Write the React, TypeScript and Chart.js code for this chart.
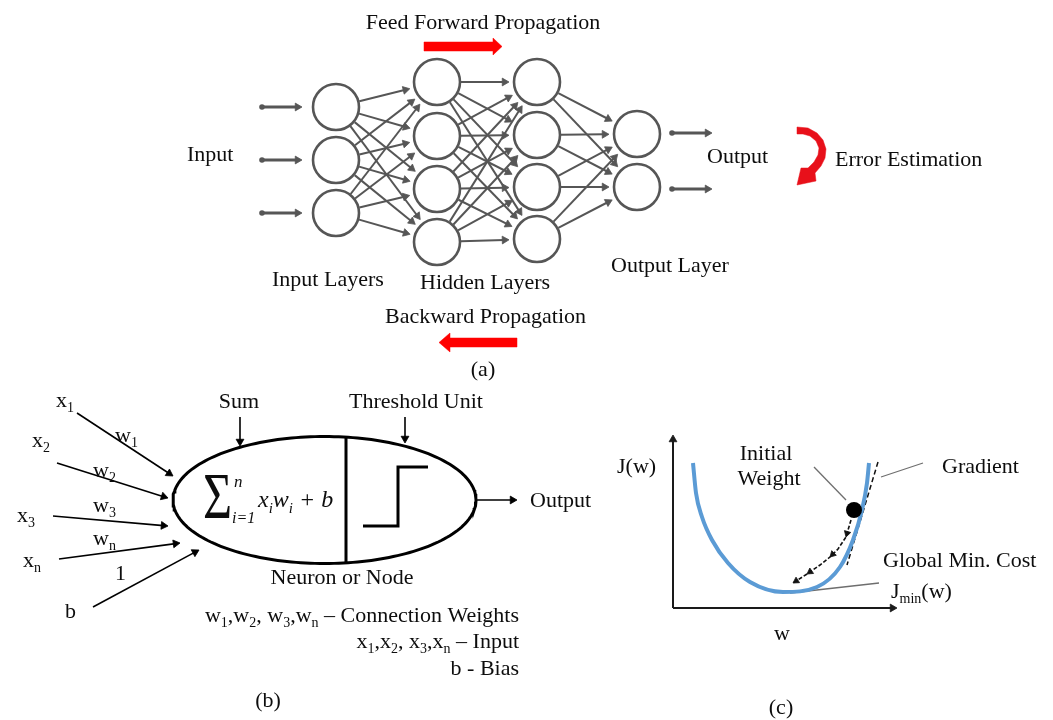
import React, { useEffect, useRef } from "react";
import { Chart, registerables } from "chart.js";

Chart.register(...registerables);

const CANVAS_W = 1053;
const CANVAS_H = 720;
const SERIF = '"Liberation Serif", "Times New Roman", serif';

// ---------- (a) feed-forward network ----------
const layerX = [336, 437, 537, 637];
const inputLayerY = [107, 160, 213];
const hidden1Y = [82, 136, 189, 242];
const hidden2Y = [82, 135, 187, 239];
const outputLayerY = [134, 187];
const nodeRadius = 23;
const inputArrowX = [262, 302];
const inputArrowY = [107, 160, 213];
const outputArrowX = [672, 712];
const outputArrowY = [133, 189];
const feedArrowX = [424, 493, 493, 502, 493, 493, 424, 424];
const feedArrowY = [42, 42, 38, 46.5, 55, 51, 51, 42];
const backArrowX = [517, 450, 450, 439, 450, 450, 517, 517];
const backArrowY = [338, 338, 333, 342.5, 352, 347, 347, 338];
const errorArrowX = [797, 808, 817, 823, 826, 825, 821, 815, 816, 797, 801, 808, 814, 818, 819, 816, 810, 803, 797, 797];
const errorArrowY = [127, 128, 133, 140, 149, 158, 166, 173, 181, 185, 168, 168, 162, 155, 148, 141, 136, 134, 134, 127];

// ---------- (b) single neuron ----------
const neuronCenterX = 324.5;
const neuronCenterY = 500;
const neuronRadiusX = 151.5;
const neuronRadiusY = 63.5;
const dividerX = 346;
const inputFromX = [77, 57, 53, 59, 93];
const inputFromY = [413, 463, 516, 559, 607];
const inputToX = [173, 168, 168, 180, 199];
const inputToY = [476, 498, 526, 543, 550];
const pointerFromX = [240, 405];
const pointerFromY = [417, 417];
const pointerToY = [446, 443];
const neuronOutX = [476, 517];
const neuronOutY = 500;
const stepX = [363, 398, 398, 428];
const stepY = [526, 526, 467, 467];

// ---------- (c) gradient descent ----------
const axisOriginX = 673;
const axisOriginY = 608;
const axisTopY = 435;
const axisRightX = 897;
const costCurveW = [693, 696, 702, 712, 728, 750, 783, 817, 840, 853, 862, 867, 869];
const costCurveJ = [463, 493, 517, 540, 563, 582, 592, 587, 567, 540, 510, 483, 463];
const tangentX = [878, 847];
const tangentY = [462, 565];
const ballX = 854;
const ballY = 510;
const descentX = [851, 846, 838, 830, 820, 807, 793];
const descentY = [520, 537, 549, 557, 565, 574, 583];
const descentHeadIdx = [1, 3, 5, 6];
const leaderFromX = [814, 881, 790];
const leaderFromY = [467, 477, 593];
const leaderToX = [846, 923, 879];
const leaderToY = [500, 463, 583];

// ---------- text ----------
type Label = { t: string; x: number; y: number; a?: CanvasTextAlign; size?: number; italic?: boolean; sy?: number };
const labels: Label[] = [
  { t: "Feed Forward Propagation", x: 483, y: 29, a: "center" },
  { t: "Input", x: 187, y: 161 },
  { t: "Output", x: 707, y: 163 },
  { t: "Error Estimation", x: 835, y: 166 },
  { t: "Input Layers", x: 272, y: 286 },
  { t: "Hidden Layers", x: 420, y: 289 },
  { t: "Output Layer", x: 611, y: 272 },
  { t: "Backward Propagation", x: 385, y: 323 },
  { t: "(a)", x: 483, y: 376, a: "center" },
  { t: "Sum", x: 239, y: 408, a: "center" },
  { t: "Threshold Unit", x: 416, y: 408, a: "center" },
  { t: "Output", x: 530, y: 507 },
  { t: "Neuron or Node", x: 342, y: 584, a: "center" },
  { t: "w_{1},w_{2}, w_{3},w_{n} – Connection Weights", x: 519, y: 622, a: "right" },
  { t: "x_{1},x_{2}, x_{3},x_{n} – Input", x: 519, y: 648, a: "right" },
  { t: "b - Bias", x: 519, y: 675, a: "right" },
  { t: "x_{1}", x: 56, y: 407 },
  { t: "w_{1}", x: 115, y: 442 },
  { t: "x_{2}", x: 32, y: 447 },
  { t: "w_{2}", x: 93, y: 477 },
  { t: "x_{3}", x: 17, y: 522 },
  { t: "w_{3}", x: 93, y: 512 },
  { t: "w_{n}", x: 93, y: 545 },
  { t: "x_{n}", x: 23, y: 567 },
  { t: "1", x: 115, y: 580 },
  { t: "b", x: 65, y: 618 },
  { t: "(b)", x: 268, y: 707, a: "center" },
  { t: "Σ", x: 203, y: 518, size: 50, sy: 1.3 },
  { t: "n", x: 234, y: 487, size: 17, italic: true },
  { t: "i=1", x: 232, y: 523, size: 16, italic: true },
  { t: "x_{i}w_{i} + b", x: 258, y: 507, size: 24, italic: true },
  { t: "J(w)", x: 617, y: 473 },
  { t: "Initial", x: 766, y: 460, a: "center" },
  { t: "Weight", x: 769, y: 485, a: "center" },
  { t: "Gradient", x: 942, y: 473 },
  { t: "Global Min. Cost", x: 883, y: 567 },
  { t: "J_{min}(w)", x: 891, y: 598 },
  { t: "w", x: 782, y: 640, a: "center" },
  { t: "(c)", x: 781, y: 714, a: "center" },
];

type P = { x: number; y: number };

function parseRich(s: string) {
  const segs: { t: string; sub: boolean; sup: boolean }[] = [];
  const re = /_\{([^}]*)\}|\^\{([^}]*)\}|([^_^]+)/g;
  let m: RegExpExecArray | null;
  while ((m = re.exec(s))) {
    if (m[1] !== undefined) segs.push({ t: m[1], sub: true, sup: false });
    else if (m[2] !== undefined) segs.push({ t: m[2], sub: false, sup: true });
    else segs.push({ t: m[3], sub: false, sup: false });
  }
  return segs;
}

function buildDatasets() {
  const ds: any[] = [];
  const heads: { x: number; y: number; rot: number; r: number; color: string }[] = [];

  const addLine = (pts: P[], color: string, width: number, extra: any = {}) => {
    ds.push({
      data: pts,
      borderColor: color,
      borderWidth: width,
      pointRadius: 0,
      showLine: true,
      fill: false,
      tension: 0,
      clip: false,
      order: 5,
      ...extra,
    });
  };
  const addArrow = (a: P, b: P, color: string, width: number, hr: number, extra: any = {}) => {
    const dx = b.x - a.x;
    const dy = b.y - a.y;
    const L = Math.hypot(dx, dy);
    const ux = dx / L;
    const uy = dy / L;
    const hc = { x: b.x - ux * hr, y: b.y - uy * hr };
    addLine([a, hc], color, width, extra);
    heads.push({ x: hc.x, y: hc.y, rot: (Math.atan2(ux, -uy) * 180) / Math.PI, r: hr, color });
  };
  const addPolygon = (xs: number[], ys: number[], color: string) => {
    ds.push({
      data: xs.map((x, i) => ({ x, y: ys[i] })),
      borderColor: color,
      borderWidth: 0.5,
      backgroundColor: color,
      pointRadius: 0,
      showLine: true,
      fill: "shape",
      tension: 0,
      clip: false,
      order: 4,
    });
  };

  const netColor = "#565656";

  // (a) connections
  const layers = [inputLayerY, hidden1Y, hidden2Y, outputLayerY];
  for (let l = 0; l < 3; l++) {
    for (const sy of layers[l]) {
      for (const ty of layers[l + 1]) {
        const sx = layerX[l];
        const tx = layerX[l + 1];
        const dx = tx - sx;
        const dy = ty - sy;
        const L = Math.hypot(dx, dy);
        const ux = dx / L;
        const uy = dy / L;
        const a = { x: sx + ux * (nodeRadius + 1), y: sy + uy * (nodeRadius + 1) };
        const b = { x: tx - ux * (nodeRadius + 5), y: ty - uy * (nodeRadius + 5) };
        addArrow(a, b, netColor, 2, 4.5);
      }
    }
  }
  // input/output arrows
  const dots: P[] = [];
  for (const y of inputArrowY) {
    addArrow({ x: inputArrowX[0], y }, { x: inputArrowX[1], y }, netColor, 3, 4.5);
    dots.push({ x: inputArrowX[0], y });
  }
  for (const y of outputArrowY) {
    addArrow({ x: outputArrowX[0], y }, { x: outputArrowX[1], y }, netColor, 3, 4.5);
    dots.push({ x: outputArrowX[0], y });
  }
  ds.push({
    data: dots,
    showLine: false,
    pointRadius: 2.8,
    pointBackgroundColor: netColor,
    pointBorderWidth: 0,
    clip: false,
    order: 1,
  });

  // nodes
  const nodes: P[] = [];
  layers.forEach((ys, l) => ys.forEach((y) => nodes.push({ x: layerX[l], y })));
  ds.push({
    data: nodes,
    showLine: false,
    pointRadius: nodeRadius,
    pointBorderWidth: 2.6,
    pointBorderColor: netColor,
    pointBackgroundColor: "#ffffff",
    clip: false,
    order: 0,
  });

  // red arrows
  addPolygon(feedArrowX, feedArrowY, "#ff0000");
  addPolygon(backArrowX, backArrowY, "#ff0000");
  addPolygon(errorArrowX, errorArrowY, "#e8101a");

  // (b) neuron
  const ell: P[] = [];
  for (let i = 0; i <= 200; i++) {
    const t = (i / 200) * Math.PI * 2;
    ell.push({ x: neuronCenterX + neuronRadiusX * Math.cos(t), y: neuronCenterY + neuronRadiusY * Math.sin(t) });
  }
  addLine(ell, "#000000", 3);
  const h = neuronRadiusY * Math.sqrt(1 - Math.pow((dividerX - neuronCenterX) / neuronRadiusX, 2));
  addLine([{ x: dividerX, y: neuronCenterY - h }, { x: dividerX, y: neuronCenterY + h }], "#000000", 3);
  addLine(stepX.map((x, i) => ({ x, y: stepY[i] })), "#000000", 3);
  for (let i = 0; i < inputFromX.length; i++) {
    addArrow({ x: inputFromX[i], y: inputFromY[i] }, { x: inputToX[i], y: inputToY[i] }, "#000000", 1.6, 4.5);
  }
  for (let i = 0; i < pointerFromX.length; i++) {
    addArrow({ x: pointerFromX[i], y: pointerFromY[i] }, { x: pointerFromX[i], y: pointerToY[i] }, "#000000", 1.6, 4.5);
  }
  addArrow({ x: neuronOutX[0], y: neuronOutY }, { x: neuronOutX[1], y: neuronOutY }, "#000000", 1.6, 4.5);

  // (c) gradient descent
  addArrow({ x: axisOriginX, y: axisOriginY }, { x: axisOriginX, y: axisTopY }, "#1a1a1a", 2, 4.5);
  addArrow({ x: axisOriginX, y: axisOriginY }, { x: axisRightX, y: axisOriginY }, "#1a1a1a", 2, 4.5);
  addLine(costCurveW.map((x, i) => ({ x, y: costCurveJ[i] })), "#5b9bd5", 4, { cubicInterpolationMode: "monotone" });
  addLine([{ x: tangentX[0], y: tangentY[0] }, { x: tangentX[1], y: tangentY[1] }], "#111111", 1.5, { borderDash: [5, 3] });
  for (let i = 0; i < leaderFromX.length; i++) {
    addLine([{ x: leaderFromX[i], y: leaderFromY[i] }, { x: leaderToX[i], y: leaderToY[i] }], "#6e6e6e", 1.3);
  }
  addLine(descentX.map((x, i) => ({ x, y: descentY[i] })), "#111111", 1.6, { borderDash: [4, 2] });
  for (const k of descentHeadIdx) {
    const dx = descentX[k] - descentX[k - 1];
    const dy = descentY[k] - descentY[k - 1];
    const L = Math.hypot(dx, dy);
    const r = 3.8;
    heads.push({
      x: descentX[k] - (dx / L) * r,
      y: descentY[k] - (dy / L) * r,
      rot: (Math.atan2(dx / L, -dy / L) * 180) / Math.PI,
      r,
      color: "#111111",
    });
  }
  ds.push({
    data: [{ x: ballX, y: ballY }],
    showLine: false,
    pointRadius: 8,
    pointBackgroundColor: "#000000",
    pointBorderWidth: 0,
    clip: false,
    order: 0,
  });

  // arrow heads
  ds.push({
    data: heads.map((h) => ({ x: h.x, y: h.y })),
    showLine: false,
    pointStyle: "triangle",
    pointRadius: heads.map((h) => h.r),
    pointRotation: heads.map((h) => h.rot),
    pointBackgroundColor: heads.map((h) => h.color),
    pointBorderColor: heads.map((h) => h.color),
    pointBorderWidth: 0.8,
    clip: false,
    order: 2,
  });
  return ds;
}

const textPlugin = {
  id: "diagramText",
  beforeDraw(chart: any) {
    const { ctx } = chart;
    ctx.save();
    ctx.fillStyle = "#ffffff";
    ctx.fillRect(0, 0, chart.width, chart.height);
    ctx.restore();
  },
  afterDatasetsDraw(chart: any) {
    const { ctx } = chart;
    const xs = chart.scales.x;
    const ys = chart.scales.y;
    ctx.save();
    ctx.fillStyle = "#0d0d0d";
    ctx.textBaseline = "alphabetic";
    for (const l of labels) {
      const size = l.size ?? 22;
      const segs = parseRich(l.t).map((s) => {
        const sz = s.sub || s.sup ? Math.round(size * 0.64) : size;
        const font = `${l.italic ? "italic " : ""}${sz}px ${SERIF}`;
        ctx.font = font;
        return { ...s, font, w: ctx.measureText(s.t).width, dy: s.sub ? size * 0.24 : s.sup ? -size * 0.4 : 0 };
      });
      const total = segs.reduce((a, s) => a + s.w, 0);
      const px = xs.getPixelForValue(l.x);
      const py = ys.getPixelForValue(l.y);
      let cx = l.a === "center" ? px - total / 2 : l.a === "right" ? px - total : px;
      ctx.textAlign = "left";
      for (const s of segs) {
        ctx.font = s.font;
        ctx.save();
        ctx.translate(cx, py + s.dy);
        if (l.sy) ctx.scale(1, l.sy);
        ctx.fillText(s.t, 0, 0);
        ctx.restore();
        cx += s.w;
      }
    }
    ctx.restore();
  },
};

export default function App() {
  const ref = useRef<HTMLCanvasElement | null>(null);
  useEffect(() => {
    if (!ref.current) return;
    const chart: any = new Chart(ref.current, {
      type: "line",
      data: { datasets: buildDatasets() },
      options: {
        animation: false,
        responsive: false,
        maintainAspectRatio: false,
        devicePixelRatio: 1,
        events: [],
        layout: { padding: 0 },
        plugins: { legend: { display: false }, tooltip: { enabled: false }, title: { display: false } },
        scales: {
          x: { type: "linear", min: 0, max: CANVAS_W, display: false },
          y: { type: "linear", min: 0, max: CANVAS_H, reverse: true, display: false },
        },
      } as any,
      plugins: [textPlugin],
    });
    // Chart.js reserves room for large point radii; align the scales so that
    // one data unit equals one canvas pixel across the whole picture.
    const ca = chart.chartArea;
    chart.options.scales.x.min = ca.left;
    chart.options.scales.x.max = ca.right;
    chart.options.scales.y.min = ca.top;
    chart.options.scales.y.max = ca.bottom;
    chart.update();
    return () => chart.destroy();
  }, []);
  return (
    <div style={{ position: "absolute", left: 0, top: 0, width: CANVAS_W, height: CANVAS_H, background: "#fff" }}>
      <canvas ref={ref} width={CANVAS_W} height={CANVAS_H} style={{ display: "block", width: CANVAS_W, height: CANVAS_H }} />
    </div>
  );
}
